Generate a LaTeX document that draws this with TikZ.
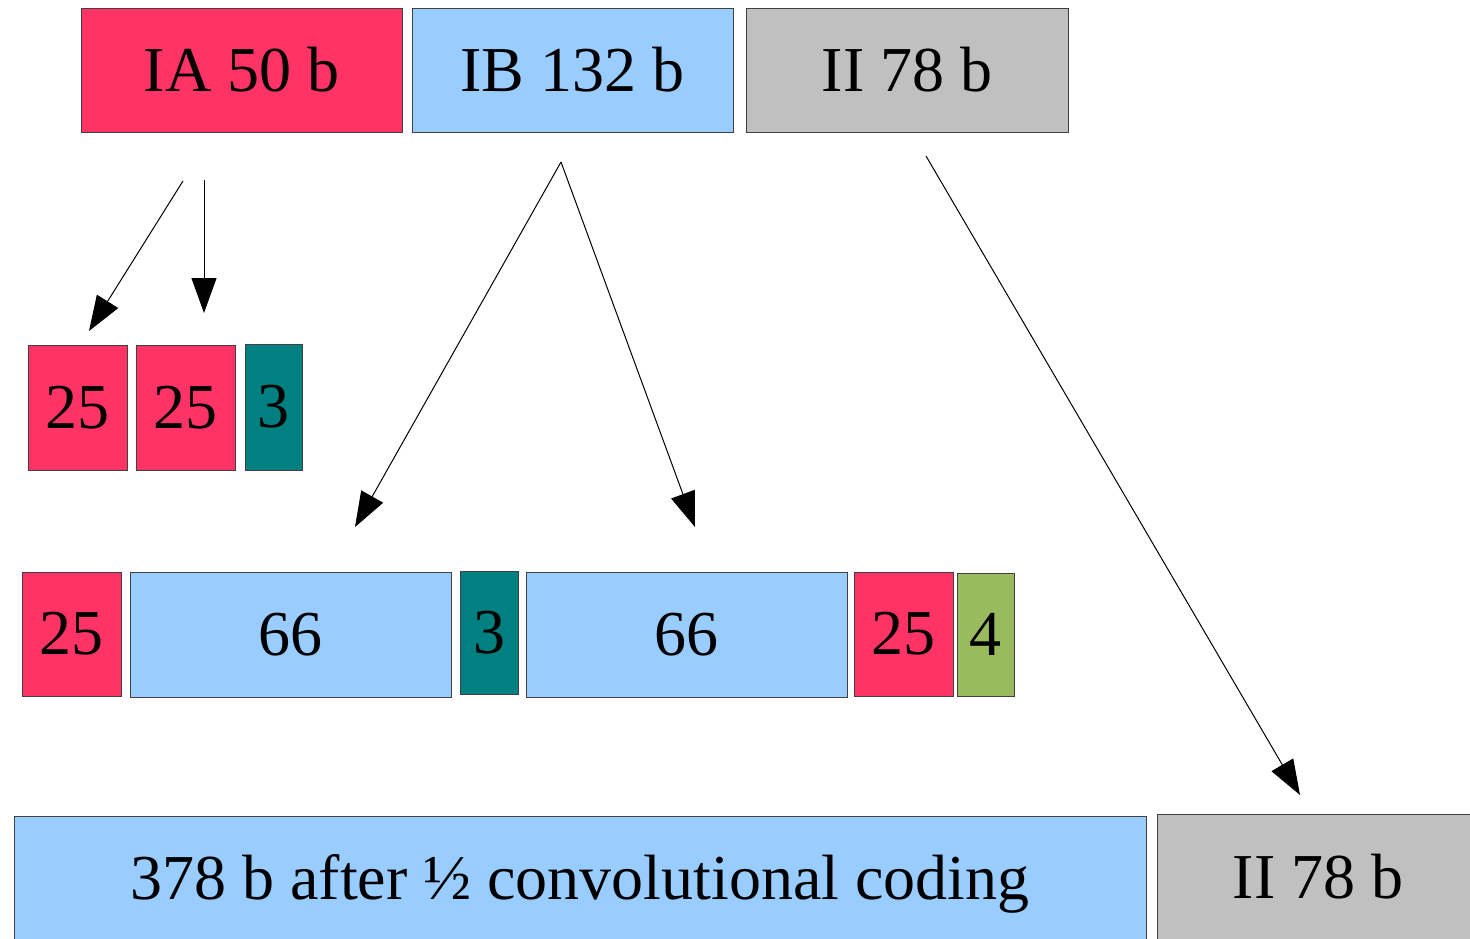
\documentclass[tikz,border=0pt]{standalone}
\usepackage{fontspec}
\setmainfont{Liberation Serif}
\usetikzlibrary{arrows.meta}
\definecolor{pinkc}{HTML}{FF3366}
\definecolor{bluec}{HTML}{99CCFF}
\definecolor{grayc}{HTML}{C0C0C0}
\definecolor{tealc}{HTML}{008080}
\definecolor{greenc}{HTML}{99BB5E}
\begin{document}
\begin{tikzpicture}[x=0.5pt,y=-0.5pt,
  blk/.style={draw=black!75,line width=0.5pt,font=\fontsize{32}{36}\selectfont,inner sep=0pt},
  arr/.style={line width=0.5pt,-{Triangle[length=17.5pt,width=12.5pt]}}]
\useasboundingbox (0,0) rectangle (1470,938);
% top row
\node[blk,fill=pinkc] (ia) at (241.5,70) [minimum width=160.5pt,minimum height=62pt] {IA 50 b};
\node[blk,fill=bluec] (ib) at (572.5,70) [minimum width=160.5pt,minimum height=62pt] {IB 132 b};
\node[blk,fill=grayc] (ii) at (907,70) [minimum width=161pt,minimum height=62pt] {II 78 b};
% second row
\node[blk,fill=pinkc] (a1) at (77.5,407.5) [minimum width=49.5pt,minimum height=62.5pt] {25};
\node[blk,fill=pinkc] (a2) at (185.5,407.5) [minimum width=49.5pt,minimum height=62.5pt] {25};
\node[blk,fill=tealc] (c1) at (273.5,407) [minimum width=28.5pt,minimum height=63pt] {3};
% third row
\node[blk,fill=pinkc] (b1) at (71.5,634) [minimum width=49.5pt,minimum height=62pt] {25};
\node[blk,fill=bluec] (b2) at (290.5,634.5) [minimum width=160.5pt,minimum height=62.5pt] {66};
\node[blk,fill=tealc] (b3) at (489,632.5) [minimum width=29pt,minimum height=61.5pt] {3};
\node[blk,fill=bluec] (b4) at (686.5,634.5) [minimum width=160.5pt,minimum height=62.5pt] {66};
\node[blk,fill=pinkc] (b5) at (903.5,634) [minimum width=49.5pt,minimum height=62pt] {25};
\node[blk,fill=greenc] (b6) at (985.5,634.5) [minimum width=28.5pt,minimum height=61.5pt] {4};
% bottom row
\node[blk,fill=bluec,anchor=north west,minimum width=566pt,minimum height=70pt] (cc) at (14,816) {};
\node at (580,884) [font=\fontsize{32}{36}\selectfont] (cct) {378 b after ½ convolutional coding};
\node[blk,fill=grayc,anchor=north west,minimum width=170pt,minimum height=70pt] (ib2) at (1157,814) {};
\node at (1318,877) [font=\fontsize{32}{36}\selectfont] (ibt) {II 78 b};
% arrow endpoints
\coordinate (s1) at (183,181);
\coordinate (e1) at (89,331);
\coordinate (s2) at (204,180);
\coordinate (e2) at (204,313);
\coordinate (s3) at (561,162);
\coordinate (e3) at (355,527);
\coordinate (e4) at (695,527);
\coordinate (s5) at (926,156);
\coordinate (e5) at (1300,795);
\draw[arr] (s1) -- (e1);
\draw[arr] (s2) -- (e2);
\draw[arr] (s3) -- (e3);
\draw[arr] (s3) -- (e4);
\draw[arr] (s5) -- (e5);
\end{tikzpicture}
\end{document}
